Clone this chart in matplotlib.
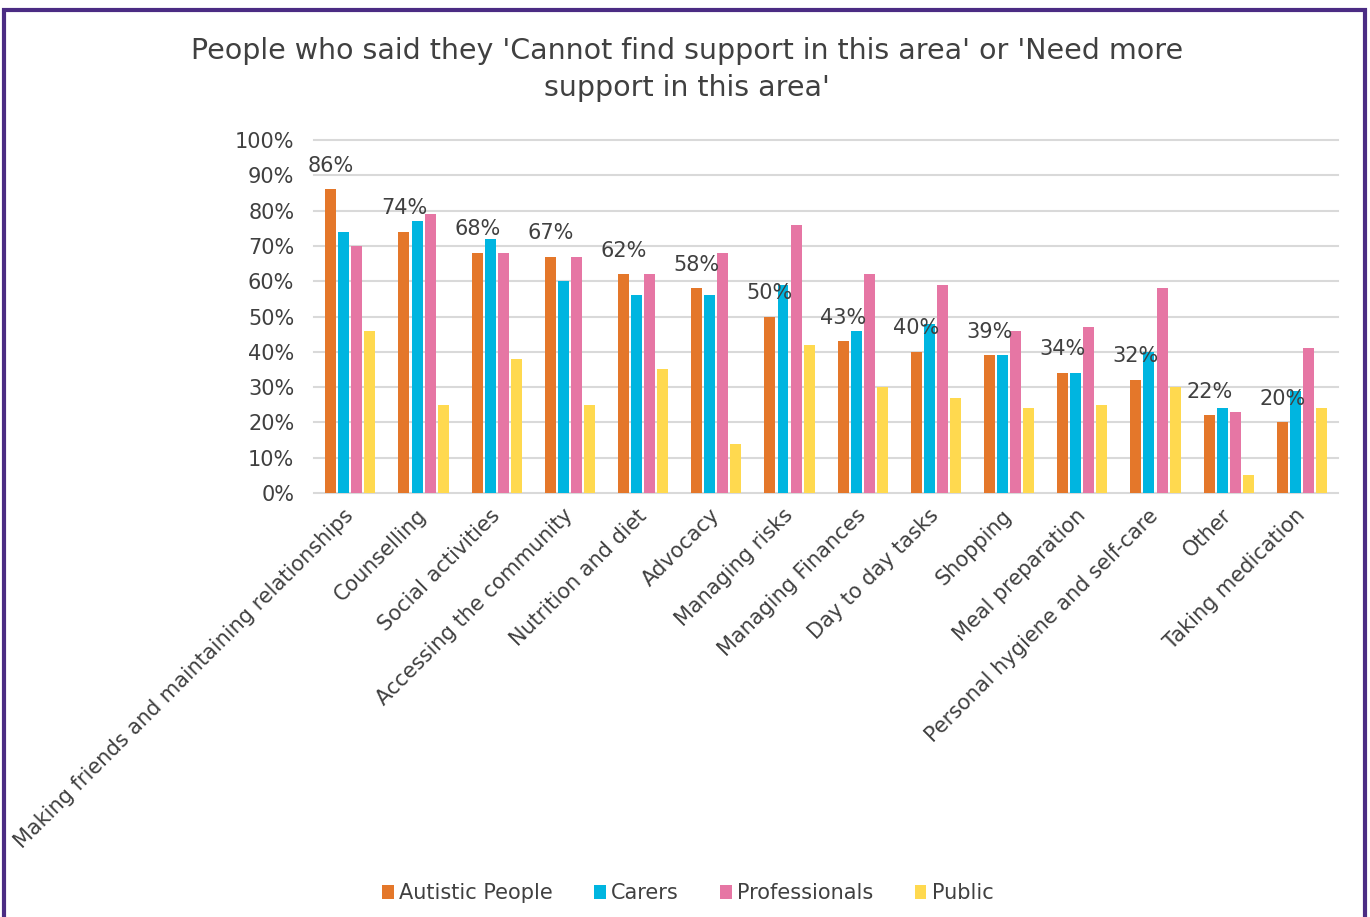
import matplotlib
matplotlib.use("Agg")
import matplotlib.pyplot as plt
import numpy as np
from matplotlib.patches import Rectangle

categories = ["Making friends and maintaining relationships", "Counselling", "Social activities",
              "Accessing the community", "Nutrition and diet", "Advocacy", "Managing risks",
              "Managing Finances", "Day to day tasks", "Shopping", "Meal preparation",
              "Personal hygiene and self-care", "Other", "Taking medication"]
autistic = [86, 74, 68, 67, 62, 58, 50, 43, 40, 39, 34, 32, 22, 20]
carers = [74, 77, 72, 60, 56, 56, 59, 46, 48, 39, 34, 40, 24, 29]
professionals = [70, 79, 68, 67, 62, 68, 76, 62, 59, 46, 47, 58, 23, 41]
public = [46, 25, 38, 25, 35, 14, 42, 30, 27, 24, 25, 30, 5, 24]
series_names = ["Autistic People", "Carers", "Professionals", "Public"]
colors = ["#E4772A", "#00B5E0", "#E676A4", "#FFD94F"]
yticks = list(range(0, 101, 10))

plt.rcParams['font.family'] = ['DejaVu Sans']
text_color = "#404040"

fig = plt.figure(figsize=(13.7, 9.17), dpi=100)
fig.patch.set_facecolor("white")
# purple frame
fig.add_artist(Rectangle((4/1370, -0.05), 1361/1370, 1 - 10/917 + 0.05, transform=fig.transFigure,
                         fill=False, edgecolor="#4B2C83", linewidth=3))

ax = fig.add_axes([0.229, 0.4624, 0.748, 0.3849])
x = np.arange(len(categories))
width = 0.15
pitch = 0.178
data = [autistic, carers, professionals, public]
for i, (vals, c, name) in enumerate(zip(data, colors, series_names)):
    ax.bar(x + (i - 1.5) * pitch, vals, width, color=c, label=name, zorder=3)

for xi, v in zip(x, autistic):
    ax.annotate(f"{v}%", (xi - 1.5 * pitch, v), xytext=(0, 17), textcoords="offset points",
                ha="center", va="center", fontsize=15, color=text_color, zorder=4)

ax.set_ylim(0, 100)
ax.set_xlim(-0.5, len(categories) - 0.5)
ax.set_yticks(yticks)
ax.set_yticklabels([f"{t}%" for t in yticks], fontsize=15, color=text_color)
ax.set_xticks(x)
ax.set_xticklabels(categories, rotation=45, ha="right", va="center", rotation_mode="anchor",
                   fontsize=15, color=text_color)
ax.tick_params(axis="both", length=0)
ax.tick_params(axis="y", pad=14)
ax.tick_params(axis="x", pad=14)
for t in yticks:
    ax.axhline(t, color="#D9D9D9", linewidth=1.5, zorder=1, clip_on=False)
for s in ax.spines.values():
    s.set_visible(False)

fig.text(0.5015, 0.924, "People who said they 'Cannot find support in this area' or 'Need more\nsupport in this area'",
         ha="center", va="center", fontsize=20.5, color=text_color, linespacing=1.42)

handles, labels = ax.get_legend_handles_labels()
fig.legend(handles, labels, loc="center", bbox_to_anchor=(0.502, 0.026), ncol=4, frameon=False,
           fontsize=15, handlelength=0.55, handleheight=0.7, handletextpad=0.25, columnspacing=2.0,
           labelcolor=text_color)

fig.savefig("out.png", dpi=100)
